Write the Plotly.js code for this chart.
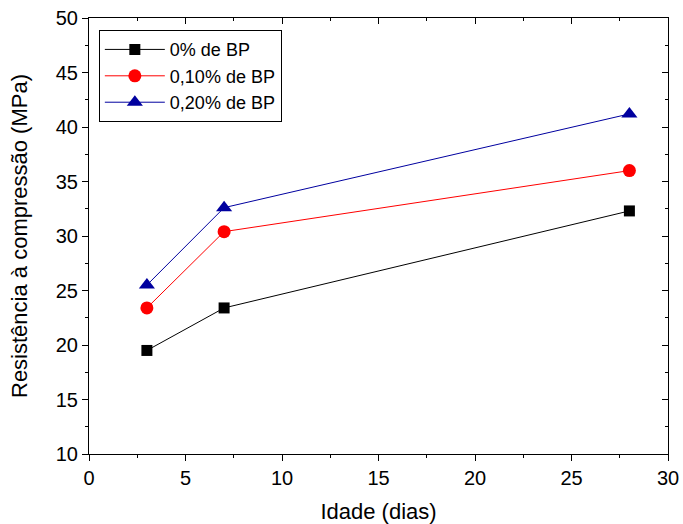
<!DOCTYPE html>
<html><head><meta charset="utf-8">
<script src="https://cdn.plot.ly/plotly-3.0.1.min.js"></script>
<style>html,body{margin:0;padding:0;background:#fff}#c{width:683px;height:524px}</style>
</head><body><div id="c"></div>
<script>
const idade = [3, 7, 28];
const bp0 = [19.5, 23.4, 32.3];
const bp010 = [23.4, 30.4, 36.0];
const bp020 = [25.5, 32.6, 41.2];
const names = ['0% de BP', '0,10% de BP', '0,20% de BP'];

const F = 'Arial, "Liberation Sans", sans-serif';
const traces = [
  {x: idade, y: bp0, name: names[0], mode: 'lines+markers', line: {color: '#000000', width: 1}, marker: {symbol: 'square', size: 11, color: '#000000'}},
  {x: idade, y: bp010, name: names[1], mode: 'lines+markers', line: {color: '#ff0000', width: 1}, marker: {symbol: 'circle', size: 13, color: '#ff0000'}},
  {x: idade, y: bp020, name: names[2], mode: 'lines+markers', line: {color: '#00009f', width: 1}, marker: {symbol: 'triangle-up', size: 14, color: '#00009f'}}
];
const common = {showgrid: false, zeroline: false, showline: true, linecolor: '#000', linewidth: 1, tickcolor: '#000', tickwidth: 1, ticklen: 6};
const layout = {
  width: 683, height: 524,
  margin: {l: 89, r: 15, t: 18, b: 70},
  paper_bgcolor: '#fff', plot_bgcolor: '#fff',
  font: {family: F, color: '#000', size: 20},
  showlegend: true,
  legend: {x: 0.017, y: 0.972, xanchor: 'left', yanchor: 'top', bordercolor: '#000', borderwidth: 1, bgcolor: '#fff', font: {family: F, size: 18}, tracegroupgap: 0, itemwidth: 60},
  xaxis: Object.assign({}, common, {range: [0, 30], dtick: 5, ticks: 'outside', tickfont: {size: 20},
    minor: {ticks: 'outside', dtick: 2.5, ticklen: 3, tickcolor: '#000'},
    title: {text: 'Idade (dias)', font: {size: 22}, standoff: 18}}),
  yaxis: Object.assign({}, common, {range: [10, 50], dtick: 5, ticks: 'outside', tickfont: {size: 20},
    minor: {ticks: 'outside', dtick: 2.5, ticklen: 3, tickcolor: '#000'},
    title: {text: 'Resistência à compressão (MPa)', font: {size: 22}, standoff: 22}}),
  xaxis2: Object.assign({}, common, {range: [0, 30], dtick: 5, ticks: 'inside', overlaying: 'x', side: 'top', anchor: 'y', showticklabels: false,
    minor: {ticks: 'inside', dtick: 2.5, ticklen: 3, tickcolor: '#000'}}),
  yaxis2: Object.assign({}, common, {range: [10, 50], dtick: 5, ticks: 'inside', overlaying: 'y', side: 'right', anchor: 'x', showticklabels: false,
    minor: {ticks: 'inside', dtick: 2.5, ticklen: 3, tickcolor: '#000'}})
};
traces.push({x: [], y: [], xaxis: 'x2', yaxis: 'y2', showlegend: false, hoverinfo: 'skip'});
Plotly.newPlot('c', traces, layout, {displayModeBar: false, staticPlot: true});
</script></body></html>
